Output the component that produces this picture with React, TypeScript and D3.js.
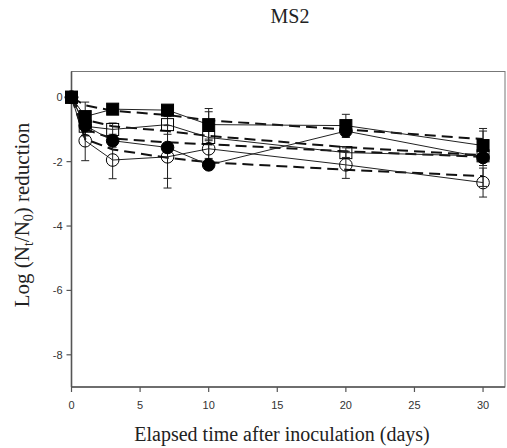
import React from "react";
import * as d3 from "d3";

// Sampling days
const days = [0, 1, 3, 7, 10, 20, 30];

// Observed log reductions (mean) per treatment
const filledSquare = [0, -0.6, -0.37, -0.4, -0.85, -0.88, -1.5];
const openSquare = [0, -0.9, -1.0, -0.85, -1.25, -1.72, -1.82];
const filledCircle = [0, -0.88, -1.35, -1.56, -2.1, -1.05, -1.87];
const openCircle = [0, -1.35, -1.95, -1.85, -1.6, -2.1, -2.65];

// Standard deviations
const filledSquareErr = [0, 0.45, 0.15, 0.1, 0.5, 0.35, 0.45];
const openSquareErr = [0, 0.3, 0.2, 0.3, 0.8, 0.15, 0.3];
const filledCircleErr = [0, 0.3, 0.2, 0.96, 0.1, 0.2, 0.9];
const openCircleErr = [0, 0.62, 0.58, 0.97, 0.3, 0.42, 0.45];

// Fitted model curves (dashed)
const fitA = [0, -0.25, -0.42, -0.55, -0.72, -1.0, -1.3];
const fitB = [0, -0.7, -0.9, -1.05, -1.2, -1.55, -1.8];
const fitC = [0, -1.0, -1.28, -1.4, -1.46, -1.68, -1.85];
const fitD = [0, -1.3, -1.62, -1.88, -2.02, -2.25, -2.45];

const xTicks = [0, 5, 10, 15, 20, 25, 30];
const yTicks = [0, -2, -4, -6, -8];

type Series = { values: number[]; errs: number[]; shape: "square" | "circle"; filled: boolean };

const series: Series[] = [
  { values: filledSquare, errs: filledSquareErr, shape: "square", filled: true },
  { values: openSquare, errs: openSquareErr, shape: "square", filled: false },
  { values: filledCircle, errs: filledCircleErr, shape: "circle", filled: true },
  { values: openCircle, errs: openCircleErr, shape: "circle", filled: false },
];
const fits = [fitA, fitB, fitC, fitD];

export default function App() {
  const W = 507;
  const H = 448;
  const left = 71.5;
  const right = 505;
  const top = 71.5;
  const bottom = 387;

  const x = d3.scaleLinear().domain([0, 31.6]).range([left, right]);
  const y = d3.scaleLinear().domain([-9, 0.8]).range([bottom, top]);

  const line = d3
    .line<number>()
    .x((_, i) => x(days[i]))
    .y((v) => y(v));

  const axisColor = "#555";
  const tickFont = "Arial, 'Liberation Sans', sans-serif";
  const serif = "'Times New Roman', 'Liberation Serif', serif";
  const cap = 4;

  return (
    <svg
      width={W}
      height={H}
      style={{ position: "absolute", left: 0, top: 0, background: "#fff" }}
    >
      <text x={290} y={23} textAnchor="middle" fontFamily={serif} fontSize={20} fill="#222">
        MS2
      </text>

      {/* frame */}
      <rect x={left} y={top} width={right - left} height={bottom - top} fill="none" stroke="#777" strokeWidth={1} />
      <line x1={left} x2={left} y1={top} y2={bottom} stroke={axisColor} strokeWidth={1.6} />
      <line x1={left} x2={right} y1={bottom} y2={bottom} stroke={axisColor} strokeWidth={1.6} />

      {/* y ticks */}
      {yTicks.map((t) => (
        <g key={"y" + t}>
          <line x1={left - 5} x2={left} y1={y(t)} y2={y(t)} stroke={axisColor} strokeWidth={1.2} />
          <text x={left - 9} y={y(t) + 4} textAnchor="end" fontFamily={tickFont} fontSize={11} fill="#333">
            {t}
          </text>
        </g>
      ))}

      {/* x ticks */}
      {xTicks.map((t) => (
        <g key={"x" + t}>
          <line x1={x(t)} x2={x(t)} y1={bottom} y2={bottom + 5} stroke={axisColor} strokeWidth={1.2} />
          <text x={x(t)} y={bottom + 22} textAnchor="middle" fontFamily={tickFont} fontSize={11} fill="#333">
            {t}
          </text>
        </g>
      ))}

      <text x={282} y={441} textAnchor="middle" fontFamily={serif} fontSize={20} fill="#222">
        Elapsed time after inoculation (days)
      </text>

      <text
        transform={`translate(29, 215) rotate(-90)`}
        textAnchor="middle"
        fontFamily={serif}
        fontSize={21}
        fill="#222"
      >
        Log (N
        <tspan fontSize={14} dy={4}>t</tspan>
        <tspan dy={-4}>/N</tspan>
        <tspan fontSize={14} dy={4}>0</tspan>
        <tspan dy={-4}>) reduction</tspan>
      </text>

      {/* fitted curves */}
      {fits.map((f, i) => (
        <path
          key={"fit" + i}
          d={line(f) ?? ""}
          fill="none"
          stroke="#111"
          strokeWidth={2}
          strokeDasharray="11,6"
        />
      ))}

      {/* observed series lines */}
      {series.map((s, i) => (
        <path key={"ln" + i} d={line(s.values) ?? ""} fill="none" stroke="#222" strokeWidth={1} />
      ))}

      {/* error bars */}
      {series.map((s, i) =>
        s.values.map((v, j) =>
          s.errs[j] > 0 ? (
            <g key={`e${i}-${j}`} stroke="#222" strokeWidth={1}>
              <line x1={x(days[j])} x2={x(days[j])} y1={y(v + s.errs[j])} y2={y(v - s.errs[j])} />
              <line x1={x(days[j]) - cap} x2={x(days[j]) + cap} y1={y(v + s.errs[j])} y2={y(v + s.errs[j])} />
              <line x1={x(days[j]) - cap} x2={x(days[j]) + cap} y1={y(v - s.errs[j])} y2={y(v - s.errs[j])} />
            </g>
          ) : null
        )
      )}

      {/* markers */}
      {series.map((s, i) =>
        s.values.map((v, j) => {
          const cx = x(days[j]);
          const cy = y(v);
          const fill = s.filled ? "#000" : "none";
          return s.shape === "square" ? (
            <rect
              key={`m${i}-${j}`}
              x={cx - 6}
              y={cy - 6}
              width={12}
              height={12}
              fill={fill}
              stroke="#000"
              strokeWidth={1}
            />
          ) : (
            <circle key={`m${i}-${j}`} cx={cx} cy={cy} r={6.3} fill={fill} stroke="#000" strokeWidth={1} />
          );
        })
      )}
    </svg>
  );
}
